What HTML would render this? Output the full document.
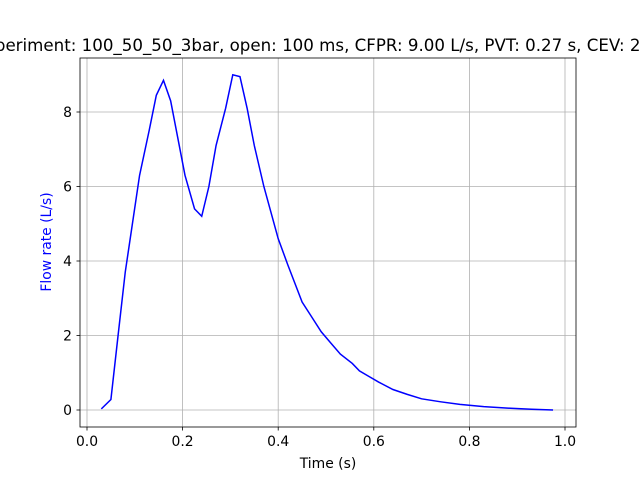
<!DOCTYPE html>
<html><head><meta charset="utf-8"><style>body{margin:0;background:#fff}svg{display:block}</style></head>
<body>
<svg id="chart" width="640" height="480" xmlns="http://www.w3.org/2000/svg" font-family="'DejaVu Sans','Liberation Sans',sans-serif">
<rect width="640" height="480" fill="#fff"/>
<text x="328" y="51" font-size="16.67" text-anchor="middle" fill="#000">Experiment: 100_50_50_3bar, open: 100 ms, CFPR: 9.00 L/s, PVT: 0.27 s, CEV: 2.18 L</text>
<g id="grid"></g>
<g id="ticks"></g>
<polyline id="line" fill="none" stroke="#0000ff" stroke-width="1.5"/>
<rect x="80" y="58" width="496" height="369" fill="none" stroke="#000" stroke-width="0.8"/>
<text x="328" y="468" font-size="13.9" text-anchor="middle">Time (s)</text>
<text transform="translate(51,242) rotate(-90)" font-size="13.9" text-anchor="middle" fill="#0000ff">Flow rate (L/s)</text>
</svg>
<script>
const times=[0.03,0.05,0.065,0.08,0.095,0.11,0.13,0.145,0.16,0.175,0.19,0.205,0.225,0.24,0.255,0.27,0.29,0.305,0.32,0.335,0.35,0.37,0.385,0.4,0.42,0.435,0.45,0.47,0.49,0.51,0.53,0.555,0.57,0.59,0.61,0.64,0.67,0.7,0.74,0.78,0.83,0.88,0.93,0.975];
const flows=[0.03,0.28,2,3.7,5,6.3,7.5,8.45,8.85,8.3,7.3,6.3,5.4,5.2,6,7.1,8.1,9.0,8.95,8.1,7.1,6,5.3,4.6,3.9,3.4,2.9,2.5,2.1,1.8,1.5,1.25,1.05,0.9,0.75,0.55,0.42,0.3,0.22,0.15,0.09,0.05,0.02,0.0];
const xTicks=[0,0.2,0.4,0.6,0.8,1.0];
const xTickLabels=["0.0","0.2","0.4","0.6","0.8","1.0"];
const yTicks=[0,2,4,6,8];
const yTickLabels=["0","2","4","6","8"];
const X=v=>87+v*478, Y=v=>410-v*37.25;
const ns="http://www.w3.org/2000/svg";
const g=document.getElementById('grid'), t=document.getElementById('ticks');
function mk(tag,attrs,parent){const e=document.createElementNS(ns,tag);for(const k in attrs)e.setAttribute(k,attrs[k]);parent.appendChild(e);return e;}
xTicks.forEach((v,i)=>{
 const gl=mk('line',{x1:X(v),x2:X(v),y1:58,y2:427,stroke:'#b0b0b0','stroke-width':0.8},g);
 
 
 mk('line',{x1:X(v),x2:X(v),y1:427,y2:430.5,stroke:'#000','stroke-width':0.8},t);
 const tx=mk('text',{x:X(v),y:446,'font-size':13.9,'text-anchor':'middle'},t);
 tx.textContent=xTickLabels[i];
 
 
});
yTicks.forEach((v,i)=>{
 const gl=mk('line',{x1:80,x2:576,y1:Y(v),y2:Y(v),stroke:'#b0b0b0','stroke-width':0.8},g);
 
 
 mk('line',{x1:76.5,x2:80,y1:Y(v),y2:Y(v),stroke:'#000','stroke-width':0.8},t);
 const tx=mk('text',{x:72,y:Y(v)+5,'font-size':13.9,'text-anchor':'end'},t);
 tx.textContent=yTickLabels[i];
 
 
});
document.getElementById('line').setAttribute('points',times.map((x,i)=>X(x)+','+Y(flows[i])).join(' '));
</script>
</body></html>
